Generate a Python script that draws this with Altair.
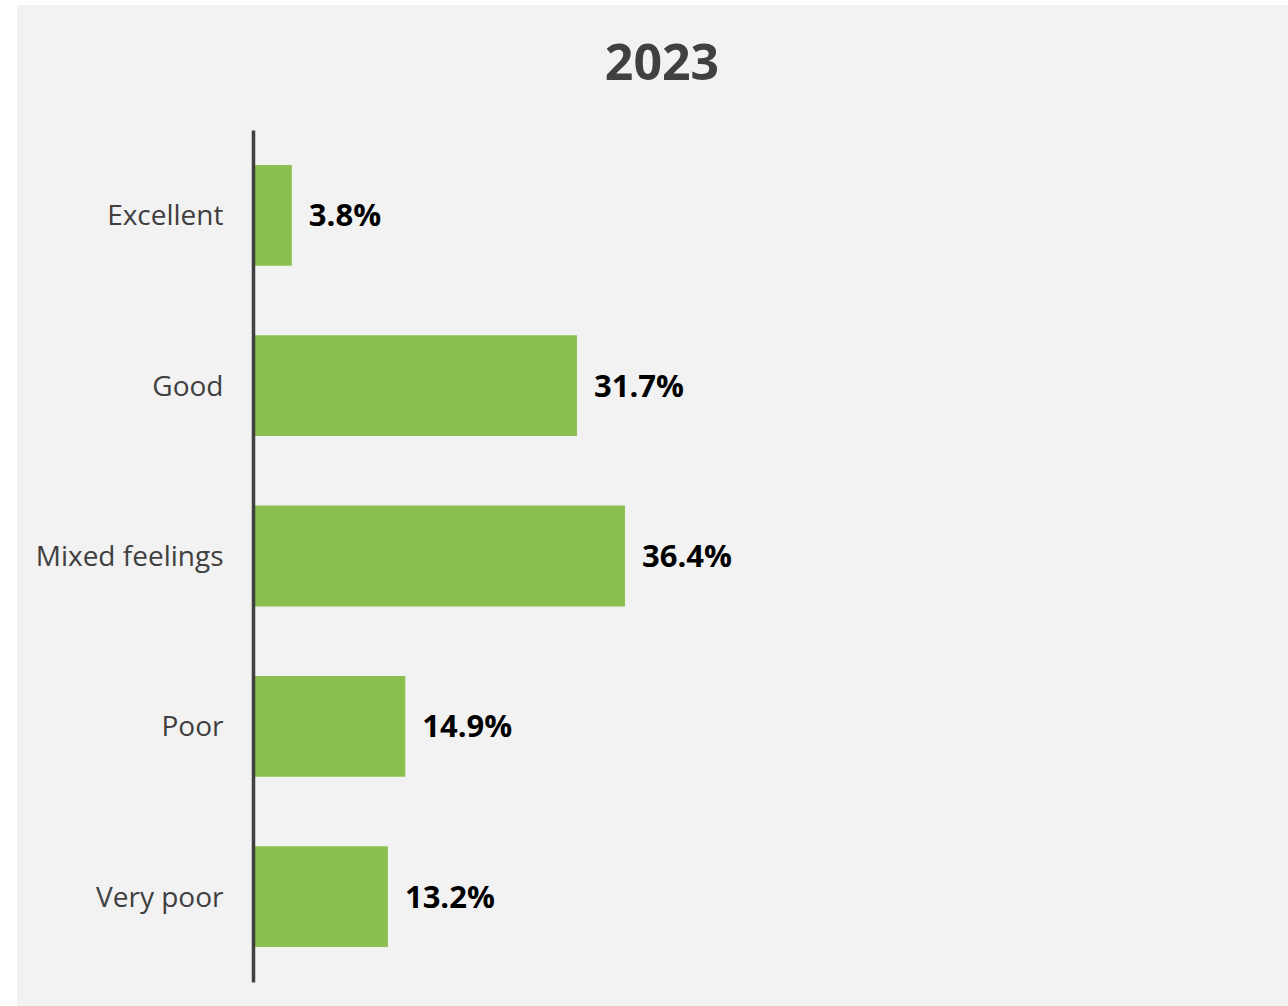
import altair as alt
import pandas as pd

categories = ["Excellent", "Good", "Mixed feelings", "Poor", "Very poor"]
values = [3.8, 31.7, 36.4, 14.9, 13.2]
title_text = "2023"

df = pd.DataFrame({"category": categories, "value": values})

W, H = 1022, 852
PAD_L, PAD_T = 253, 130

bg = alt.Chart(pd.DataFrame({"a": [0]})).mark_rect(color="#f2f2f2").encode(
    x=alt.value(17 - PAD_L), x2=alt.value(1288 - PAD_L),
    y=alt.value(5 - PAD_T), y2=alt.value(1006 - PAD_T),
)

y_enc = alt.Y(
    "category:N", sort=categories,
    scale=alt.Scale(paddingInner=0.408, paddingOuter=0.205),
    axis=alt.Axis(title=None, domainColor="#404040", domainWidth=3.5, ticks=False,
                  labelFont="Open Sans", labelFontSize=28, labelColor="#404040",
                  labelPadding=30, labelLimit=400, labelOffset=2, zindex=1, grid=False),
)
x_enc = alt.X("value:Q", scale=alt.Scale(domain=[0, 100]), axis=None)

bars = alt.Chart(df).mark_bar(color="#8bc050").encode(y=y_enc, x=x_enc)

labels = alt.Chart(df).transform_calculate(
    lbl="format(datum.value, '.1f') + '%'"
).mark_text(align="left", baseline="middle", dx=17, dy=2, font="Open Sans",
            fontWeight="bold", fontSize=31, color="black").encode(
    y=alt.Y("category:N", sort=categories), x="value:Q", text="lbl:N"
)

chart = alt.layer(bg, bars, labels).properties(
    width=W, height=H,
    title=alt.TitleParams(title_text, font="Open Sans", fontSize=50, fontWeight="bold",
                          color="#404040", anchor="middle", dx=-102, offset=-85),
    autosize=alt.AutoSizeParams(type="none"),
    padding={"left": PAD_L, "top": PAD_T, "right": 1288 - PAD_L - W, "bottom": 1006 - PAD_T - H},
    background="white",
).configure_view(stroke=None)

chart.save("out.html", embed_options={"renderer": "svg", "actions": False})
